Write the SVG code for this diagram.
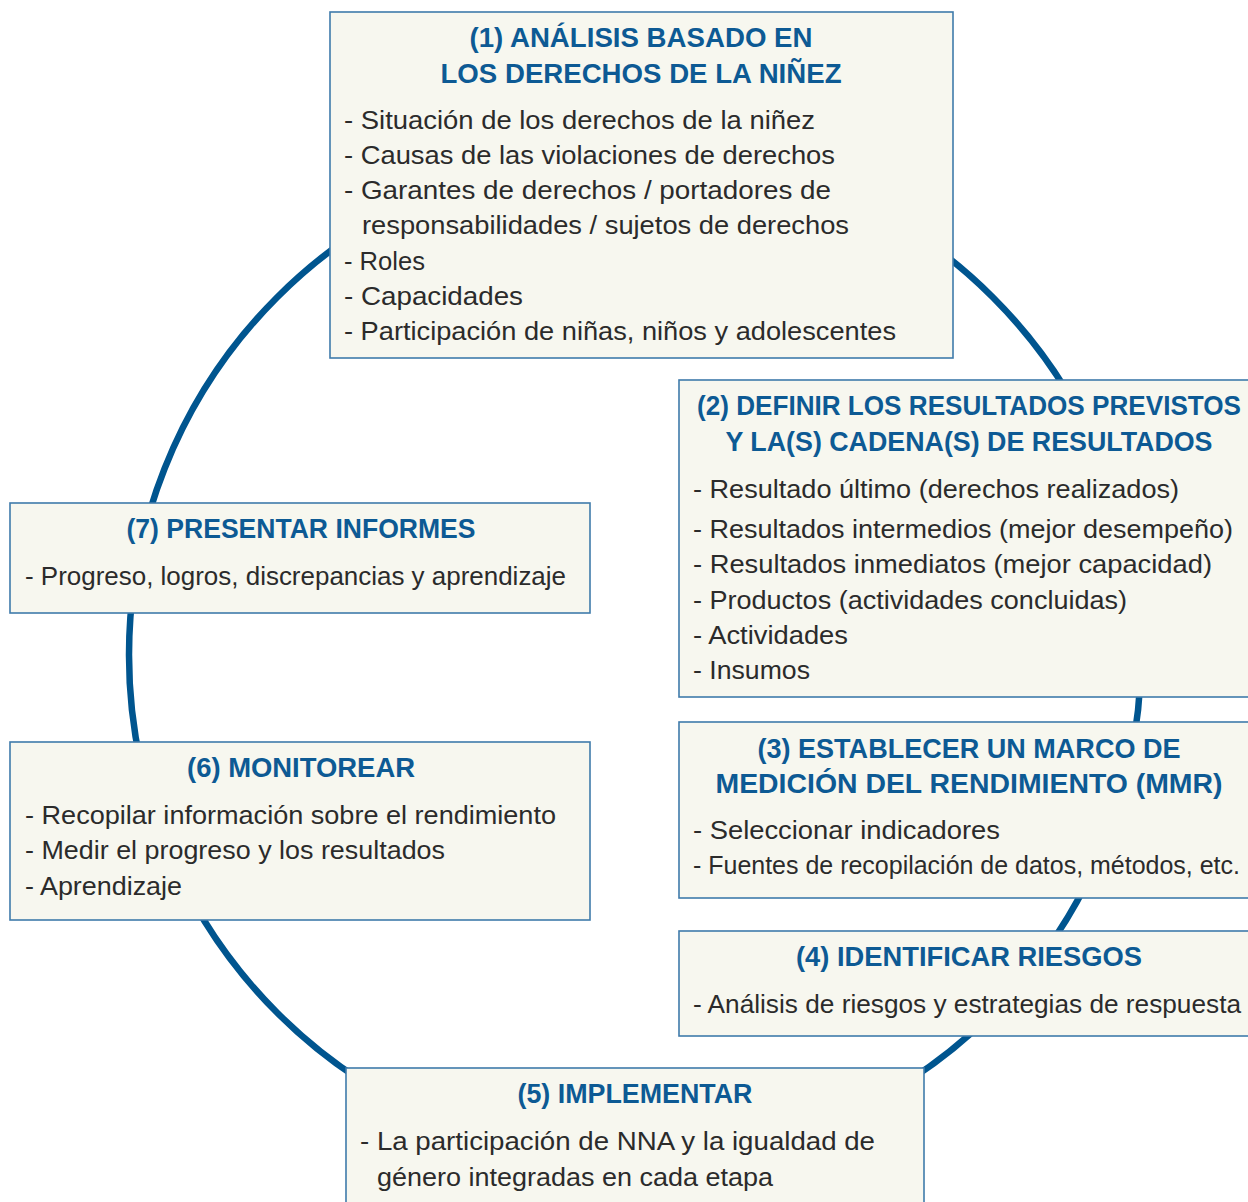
<svg xmlns="http://www.w3.org/2000/svg" width="1248" height="1202" viewBox="0 0 1248 1202">
<style>
.box{fill:#f7f7ef;stroke:#3f7bab;stroke-width:1.6}
.t{font-family:"Liberation Sans",Arial,sans-serif;font-size:27px;font-weight:bold;fill:#0d5a94;text-anchor:middle}
.b{font-family:"Liberation Sans",Arial,sans-serif;font-size:25px;fill:#2b2b2b}
.ring{fill:none;stroke:#00558f;stroke-width:6.5}
</style>
<rect width="1248" height="1202" fill="#ffffff"/>
<g id="connectors">
<circle class="ring" cx="635" cy="655" r="506"/>
</g>
<g id="node1">
<rect class="box" x="330" y="12" width="623" height="346"/>
<text class="t" x="641" y="47" textLength="343" lengthAdjust="spacingAndGlyphs">(1) ANÁLISIS BASADO EN</text>
<text class="t" x="641" y="83" textLength="401" lengthAdjust="spacingAndGlyphs">LOS DERECHOS DE LA NIÑEZ</text>
<text class="b" x="344" y="129" textLength="471" lengthAdjust="spacingAndGlyphs">- Situación de los derechos de la niñez</text>
<text class="b" x="344" y="164" textLength="491" lengthAdjust="spacingAndGlyphs">- Causas de las violaciones de derechos</text>
<text class="b" x="344" y="199" textLength="487" lengthAdjust="spacingAndGlyphs">- Garantes de derechos / portadores de</text>
<text class="b" x="362" y="234" textLength="487" lengthAdjust="spacingAndGlyphs">responsabilidades / sujetos de derechos</text>
<text class="b" x="344" y="270" textLength="81" lengthAdjust="spacingAndGlyphs">- Roles</text>
<text class="b" x="344" y="305" textLength="179" lengthAdjust="spacingAndGlyphs">- Capacidades</text>
<text class="b" x="344" y="340" textLength="552" lengthAdjust="spacingAndGlyphs">- Participación de niñas, niños y adolescentes</text>
</g>
<g id="node2">
<rect class="box" x="679" y="380" width="580" height="317"/>
<text class="t" x="969" y="415" textLength="544" lengthAdjust="spacingAndGlyphs">(2) DEFINIR LOS RESULTADOS PREVISTOS</text>
<text class="t" x="969" y="451" textLength="487" lengthAdjust="spacingAndGlyphs">Y LA(S) CADENA(S) DE RESULTADOS</text>
<text class="b" x="693" y="498" textLength="486" lengthAdjust="spacingAndGlyphs">- Resultado último (derechos realizados)</text>
<text class="b" x="693" y="538" textLength="540" lengthAdjust="spacingAndGlyphs">- Resultados intermedios (mejor desempeño)</text>
<text class="b" x="693" y="573" textLength="519" lengthAdjust="spacingAndGlyphs">- Resultados inmediatos (mejor capacidad)</text>
<text class="b" x="693" y="609" textLength="434" lengthAdjust="spacingAndGlyphs">- Productos (actividades concluidas)</text>
<text class="b" x="693" y="644" textLength="155" lengthAdjust="spacingAndGlyphs">- Actividades</text>
<text class="b" x="693" y="679" textLength="117" lengthAdjust="spacingAndGlyphs">- Insumos</text>
</g>
<g id="node3">
<rect class="box" x="679" y="722" width="580" height="176"/>
<text class="t" x="969" y="758" textLength="423" lengthAdjust="spacingAndGlyphs">(3) ESTABLECER UN MARCO DE</text>
<text class="t" x="969" y="793" textLength="507" lengthAdjust="spacingAndGlyphs">MEDICIÓN DEL RENDIMIENTO (MMR)</text>
<text class="b" x="693" y="839" textLength="307" lengthAdjust="spacingAndGlyphs">- Seleccionar indicadores</text>
<text class="b" x="693" y="874" textLength="547" lengthAdjust="spacingAndGlyphs">- Fuentes de recopilación de datos, métodos, etc.</text>
</g>
<g id="node4">
<rect class="box" x="679" y="931" width="580" height="105"/>
<text class="t" x="969" y="966" textLength="346" lengthAdjust="spacingAndGlyphs">(4) IDENTIFICAR RIESGOS</text>
<text class="b" x="693" y="1013" textLength="548" lengthAdjust="spacingAndGlyphs">- Análisis de riesgos y estrategias de respuesta</text>
</g>
<g id="node5">
<rect class="box" x="346" y="1068" width="578" height="150"/>
<text class="t" x="635" y="1103" textLength="235" lengthAdjust="spacingAndGlyphs">(5) IMPLEMENTAR</text>
<text class="b" x="360" y="1150" textLength="515" lengthAdjust="spacingAndGlyphs">- La participación de NNA y la igualdad de</text>
<text class="b" x="377" y="1186" textLength="396" lengthAdjust="spacingAndGlyphs">género integradas en cada etapa</text>
</g>
<g id="node6">
<rect class="box" x="10" y="742" width="580" height="178"/>
<text class="t" x="301" y="777" textLength="228" lengthAdjust="spacingAndGlyphs">(6) MONITOREAR</text>
<text class="b" x="25" y="824" textLength="531" lengthAdjust="spacingAndGlyphs">- Recopilar información sobre el rendimiento</text>
<text class="b" x="25" y="859" textLength="420" lengthAdjust="spacingAndGlyphs">- Medir el progreso y los resultados</text>
<text class="b" x="25" y="895" textLength="157" lengthAdjust="spacingAndGlyphs">- Aprendizaje</text>
</g>
<g id="node7">
<rect class="box" x="10" y="503" width="580" height="110"/>
<text class="t" x="301" y="538" textLength="349" lengthAdjust="spacingAndGlyphs">(7) PRESENTAR INFORMES</text>
<text class="b" x="25" y="585" textLength="541" lengthAdjust="spacingAndGlyphs">- Progreso, logros, discrepancias y aprendizaje</text>
</g>
</svg>
